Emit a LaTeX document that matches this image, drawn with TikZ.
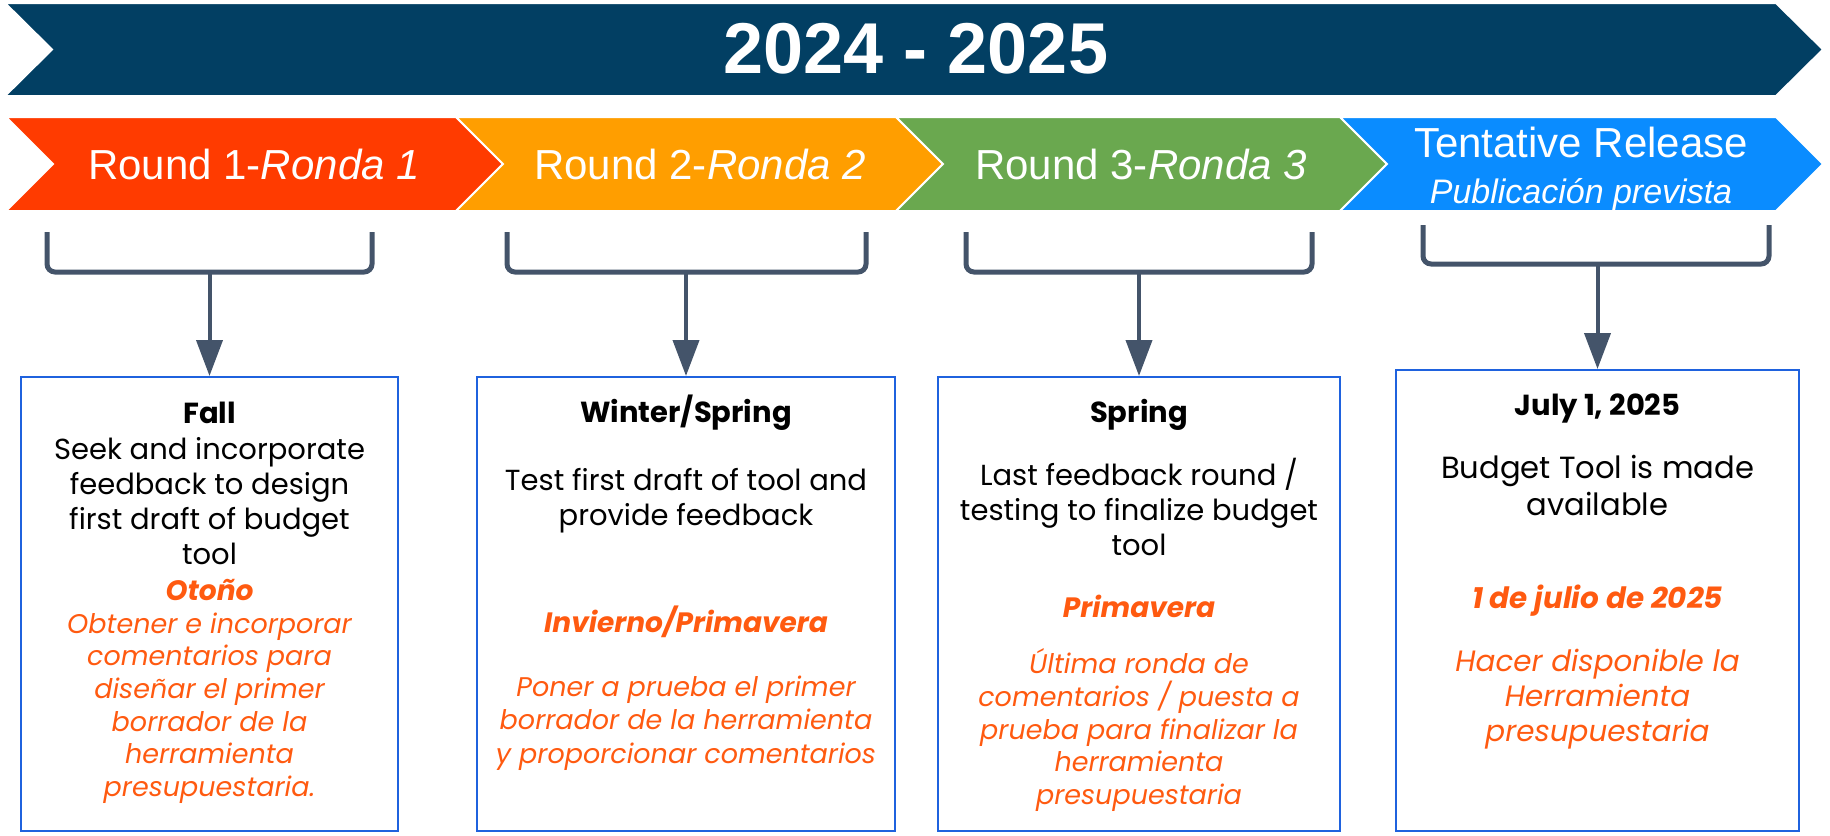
\documentclass[tikz,border=0pt]{standalone}
\usepackage{fontspec}
\setmainfont{Liberation Sans}
\newfontfamily\popfont{Poppins}
\usetikzlibrary{arrows.meta,fit}

\definecolor{navyband}{HTML}{023F63}
\definecolor{roundone}{HTML}{FF3B00}
\definecolor{roundtwo}{HTML}{FF9E00}
\definecolor{roundthree}{HTML}{6AA84F}
\definecolor{releaseblue}{HTML}{0A8CFF}
\definecolor{bracketgray}{HTML}{44546A}
\definecolor{boxblue}{HTML}{1F62DE}
\definecolor{espanol}{HTML}{FF5A10}

\tikzset{
  chev/.style={draw=white, line width=1pt},
  bandtext/.style={text=white, font=\fontsize{21}{23}\selectfont, align=center},
  brace/.style={draw=bracketgray, line width=2.5pt, rounded corners=4pt},
  stem/.style={draw=bracketgray, line width=2pt, -{Triangle[length=18pt,width=13pt]}},
  phasebox/.style={draw=boxblue, line width=1pt, inner sep=0pt},
  phasetitle/.style={font=\popfont\bfseries\fontsize{14.5}{17.5}\selectfont},
  phasebody/.style={font=\popfont\fontsize{14.5}{17.5}\selectfont, align=center},
  esptitle/.style={text=espanol, font=\popfont\bfseries\itshape\fontsize{14}{17}\selectfont},
  espbody/.style={text=espanol, font=\popfont\itshape\fontsize{13.5}{16.3}\selectfont, align=center},
}

\begin{document}
\begin{tikzpicture}[x=0.5pt, y=-0.5pt]
    \useasboundingbox (0,0) rectangle (1830,835);

    % year banner
    \filldraw[navyband, chev] (5,3) -- (1776,3) -- (1823,49.5) -- (1776,96) -- (5,96) -- (52,49.5) -- cycle;
    \node[text=white, font=\bfseries\fontsize{36}{40}\selectfont] (years) at (916,49) {2024 - 2025};

    % rounds
    \filldraw[roundone, chev] (6,117) -- (456,117) -- (503,164) -- (456,211) -- (6,211) -- (53,164) -- cycle;
    \filldraw[roundtwo, chev] (456,117) -- (896,117) -- (943,164) -- (896,211) -- (456,211) -- (503,164) -- cycle;
    \filldraw[roundthree, chev] (896,117) -- (1340,117) -- (1387,164) -- (1340,211) -- (896,211) -- (943,164) -- cycle;
    \filldraw[releaseblue, chev] (1340,117) -- (1776,117) -- (1823,164) -- (1776,211) -- (1340,211) -- (1387,164) -- cycle;

    \node[bandtext] (r1) at (254,164) {Round 1-\textit{Ronda 1}};
    \node[bandtext] (r2) at (700,164) {Round 2-\textit{Ronda 2}};
    \node[bandtext] (r3) at (1141,164) {Round 3-\textit{Ronda 3}};
    \node[bandtext] (rel) at (1581,169) {Tentative Release\\{\itshape\fontsize{17}{20}\selectfont Publicación prevista}};

    % boxes
    \node[phasebox, fit={(21,377) (398,831)}] (box1) {};
    \node[phasebox, fit={(477,377) (895,831)}] (box2) {};
    \node[phasebox, fit={(938,377) (1340,831)}] (box3) {};
    \node[phasebox, fit={(1396,370) (1799,831)}] (box4) {};

    % brackets and arrows
    \coordinate (b1) at (209.5,272);
    \coordinate (b2) at (686,272);
    \coordinate (b3) at (1139,272);
    \coordinate (b4) at (1597.5,264);
    \draw[brace] (47,232) -- (47,272) -- (372,272) -- (372,232);
    \draw[brace] (507,232) -- (507,272) -- (866,272) -- (866,232);
    \draw[brace] (966,232) -- (966,272) -- (1312,272) -- (1312,232);
    \draw[brace] (1423,225) -- (1423,264) -- (1769,264) -- (1769,225);
    \draw[stem] (b1) -- (box1.north);
    \draw[stem] (b2) -- (box2.north);
    \draw[stem] (b3) -- (box3.north);
    \draw[stem] (b4) -- (box4.north);

    % texts
    \node[phasetitle] (t1) at (209.5,413) {Fall};
    \node[phasebody] (e1) at (209.5,501) {Seek and incorporate\\feedback to design\\first draft of budget\\tool};
    \node[esptitle] (s1) at (209.5,590) {Otoño};
    \node[espbody] (o1) at (209.5,708) {Obtener e incorporar\\comentarios para\\diseñar el primer\\borrador de la\\herramienta\\presupuestaria.};

    \node[phasetitle] (t2) at (686,413) {Winter/Spring};
    \node[phasebody] (e2) at (686,500.5) {Test first draft of tool and\\provide feedback};
    \node[esptitle] (s2) at (686,622) {Invierno/Primavera};
    \node[espbody, font=\popfont\itshape\fontsize{13.5}{16.8}\selectfont] (o2) at (686,723) {Poner a prueba el primer\\borrador de la herramienta\\y proporcionar comentarios};

    \node[phasetitle] (t3) at (1139,415) {Spring};
    \node[phasebody] (e3) at (1139,507) {Last feedback round /\\testing to finalize budget\\tool};
    \node[esptitle] (s3) at (1139,606) {Primavera};
    \node[espbody] (o3) at (1139,730) {Última ronda de\\comentarios / puesta a\\prueba para finalizar la\\herramienta\\presupuestaria};

    \node[phasetitle] (t4) at (1597.5,409) {July 1, 2025};
    \node[phasebody, font=\popfont\fontsize{15.3}{18.5}\selectfont] (e4) at (1597.5,485.5) {Budget Tool is made\\available};
    \node[esptitle, font=\popfont\bfseries\itshape\fontsize{14.7}{17}\selectfont] (s4) at (1597.5,601) {1 de julio de 2025};
    \node[espbody, font=\popfont\itshape\fontsize{14.7}{17.5}\selectfont] (o4) at (1597.5,699) {Hacer disponible la\\Herramienta\\presupuestaria};

\end{tikzpicture}
\end{document}
